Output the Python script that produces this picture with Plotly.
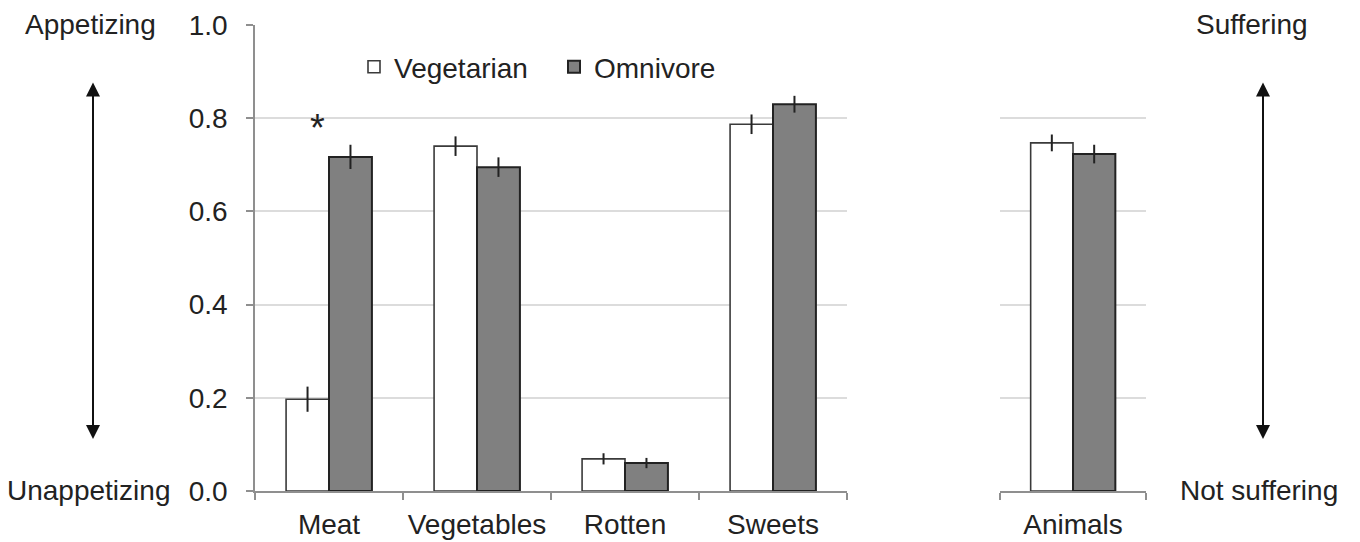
import plotly.graph_objects as go

food_categories = ["Meat", "Vegetables", "Rotten", "Sweets"]
veg_food = [0.197, 0.740, 0.069, 0.787]
veg_food_err = [0.027, 0.021, 0.012, 0.021]
omni_food = [0.717, 0.695, 0.060, 0.830]
omni_food_err = [0.026, 0.021, 0.011, 0.018]

animal_categories = ["Animals"]
veg_animal = [0.747]
veg_animal_err = [0.018]
omni_animal = [0.723]
omni_animal_err = [0.020]

y_ticks = [0.0, 0.2, 0.4, 0.6, 0.8, 1.0]
y_ticklabels = ["0.0", "0.2", "0.4", "0.6", "0.8", "1.0"]

FONT = "Liberation Sans, Arial, sans-serif"
FS = 28
TXT = "#222222"
GRID = "#dcdcdc"
AXL = "#8f8f8f"
OFF = 8  # page body margin offset
W, H = 1360 - OFF, 542 - OFF


def px(xr):
    return (xr - OFF) / W


def py(yr):
    return 1 - (yr - OFF) / H


veg_style = dict(color="white", line=dict(color="#3a3a3a", width=1.6))
omni_style = dict(color="#808080", line=dict(color="#222222", width=2))
err = dict(color="#222222", thickness=2, width=0)

fig = go.Figure()
fig.add_trace(go.Bar(x=food_categories, y=veg_food, name="Vegetarian", marker=veg_style,
                     error_y=dict(type="data", array=veg_food_err, **err), xaxis="x", yaxis="y"))
fig.add_trace(go.Bar(x=food_categories, y=omni_food, name="Omnivore", marker=omni_style,
                     error_y=dict(type="data", array=omni_food_err, **err), xaxis="x", yaxis="y"))
fig.add_trace(go.Bar(x=animal_categories, y=veg_animal, name="Vegetarian", marker=veg_style,
                     error_y=dict(type="data", array=veg_animal_err, **err), xaxis="x2", yaxis="y2",
                     showlegend=False))
fig.add_trace(go.Bar(x=animal_categories, y=omni_animal, name="Omnivore", marker=omni_style,
                     error_y=dict(type="data", array=omni_animal_err, **err), xaxis="x2", yaxis="y2",
                     showlegend=False))

ydom = [py(491), py(25)]

common_x = dict(showline=True, linecolor=AXL, linewidth=1.5, ticks="outside", tickson="boundaries",
                ticklen=7, tickcolor=AXL, tickwidth=1.5, showgrid=False, zeroline=False,
                tickfont=dict(family=FONT, size=FS, color=TXT), ticklabelstandoff=8,
                tickangle=0, automargin=False)

fig.update_layout(
    template="none",
    width=W, height=H,
    margin=dict(l=0, r=0, t=0, b=0, autoexpand=False),
    paper_bgcolor="white", plot_bgcolor="white",
    barmode="group", bargap=0.42, bargroupgap=0,
    font=dict(family=FONT, size=FS, color=TXT),
    xaxis=dict(domain=[px(255), px(847)], range=[-0.5, 3.5], anchor="y", **common_x),
    xaxis2=dict(domain=[px(1000), px(1146)], range=[-0.5, 0.5], anchor="y2", **common_x),
    yaxis=dict(domain=ydom, range=[0, 1], tickvals=y_ticks, ticktext=y_ticklabels,
               showline=True, linecolor=AXL, linewidth=1.5, ticks="outside", ticklen=7,
               tickcolor=AXL, tickwidth=1.5, showgrid=True, gridcolor=GRID, gridwidth=1.5,
               zeroline=False, tickfont=dict(family=FONT, size=FS, color=TXT),
               ticklabelstandoff=13, anchor="x", automargin=False),
    yaxis2=dict(domain=ydom, range=[0, 1], tickvals=y_ticks, matches="y", showticklabels=False,
                showline=False, ticks="", showgrid=True, gridcolor=GRID, gridwidth=1.5,
                zeroline=False, anchor="x2", automargin=False),
    legend=dict(orientation="h", x=px(354), y=py(67), xanchor="left", yanchor="middle",
                font=dict(family=FONT, size=FS, color=TXT), bgcolor="rgba(0,0,0,0)",
                entrywidth=155, entrywidthmode="pixels", itemclick=False),
    showlegend=True,
)

ann_font = dict(family=FONT, size=FS, color=TXT)
fig.add_annotation(x=px(90), y=1, xref="paper", yref="paper", text="Appetizing",
                   showarrow=False, font=ann_font, xanchor="center", yanchor="top", borderpad=0)
fig.add_annotation(x=px(88), y=py(490), xref="paper", yref="paper", text="Unappetizing",
                   showarrow=False, font=ann_font, xanchor="center", yanchor="middle")
fig.add_annotation(x=px(1252), y=1, xref="paper", yref="paper", text="Suffering",
                   showarrow=False, font=ann_font, xanchor="center", yanchor="top", borderpad=0)
fig.add_annotation(x=px(1259), y=py(490), xref="paper", yref="paper", text="Not suffering",
                   showarrow=False, font=ann_font, xanchor="center", yanchor="middle")

for ax_px in (93, 1263):
    fig.add_annotation(x=px(ax_px), y=py(439), xref="paper", yref="paper", text="",
                       showarrow=True, ax=0, ay=-(439 - 81), axref="pixel", ayref="pixel",
                       arrowhead=2, startarrowhead=2, arrowside="end+start",
                       arrowsize=1.4, startarrowsize=1.4, arrowwidth=2, arrowcolor="#111111",
                       standoff=0, startstandoff=0)

# significance marker
fig.add_annotation(x="Meat", y=0.78, xref="x", yref="y", text="*", showarrow=False,
                   xshift=-12, font=dict(family=FONT, size=38, color=TXT),
                   xanchor="center", yanchor="middle")

fig.write_html("out.html")
